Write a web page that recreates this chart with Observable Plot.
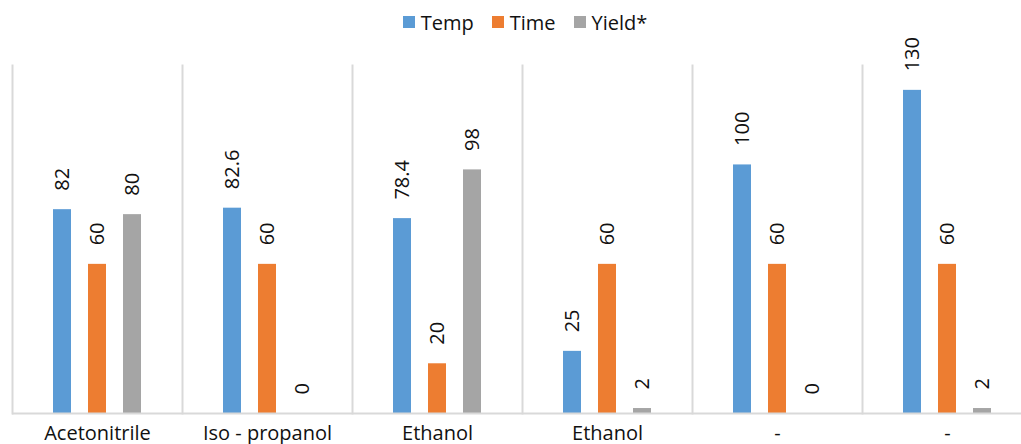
<!DOCTYPE html>
<html><head><meta charset="utf-8">
<script src="https://cdn.jsdelivr.net/npm/d3@7"></script>
<script src="https://cdn.jsdelivr.net/npm/@observablehq/plot@0.6"></script>
<style>
html,body{margin:0;padding:0;background:#fff;overflow:hidden;}
body{width:1021px;height:444px;font-family:"Open Sans",sans-serif;}
#legend{height:44px;display:flex;justify-content:center;align-items:center;padding-left:29px;box-sizing:border-box;font-size:20px;color:#111;}
#legend .it{display:flex;align-items:center;margin:0 9px;}
#legend .sw{width:12px;height:12px;margin-right:6px;}
svg{display:block;overflow:visible;}
</style></head>
<body>
<div id="legend"></div>
<div id="chart"></div>
<script>
const categories = ["Acetonitrile", "Iso - propanol", "Ethanol", "Ethanol", "-", "-"];
const series = ["Temp", "Time", "Yield*"];
const colors = ["#5B9BD5", "#ED7D31", "#A5A5A5"];
const temp = [82, 82.6, 78.4, 25, 100, 130];
const time = [60, 60, 20, 60, 60, 60];
const yieldPct = [80, 0, 98, 2, 0, 2];

const values = [temp, time, yieldPct];
const data = [];
categories.forEach((c, i) => {
  series.forEach((s, j) => data.push({cat: i, series: s, value: values[j][i]}));
});

const legend = document.getElementById("legend");
series.forEach((s, j) => {
  const it = document.createElement("div");
  it.className = "it";
  it.innerHTML = `<span class="sw" style="background:${colors[j]}"></span><span>${s}</span>`;
  legend.appendChild(it);
});

const chart = Plot.plot({
  width: 1021,
  height: 400,
  marginLeft: 12,
  marginRight: -11,
  marginTop: 21,
  marginBottom: 31,
  style: {fontFamily: "Open Sans, sans-serif", background: "#fff"},
  fx: {domain: d3.range(categories.length), padding: 0, axis: null},
  x: {domain: series, paddingInner: 0.486, paddingOuter: 1.17, axis: null},
  y: {domain: [0, 140], axis: null},
  color: {domain: series, range: colors},
  marks: [
    Plot.frame({anchor: "left", stroke: "#d9d9d9", strokeWidth: 2}),
    Plot.barY(data, {fx: "cat", x: "series", y: "value", fill: "series"}),
    Plot.ruleY([0], {stroke: "#d9d9d9", strokeWidth: 2}),
    Plot.text(data, {fx: "cat", x: "series", y: "value", text: d => String(d.value),
      rotate: -90, textAnchor: "start", dy: -19, fontSize: 20, fill: "#111"}),
    Plot.axisFx({anchor: "bottom", tickSize: 0, tickPadding: 12, fontSize: 20, label: null,
      tickFormat: i => categories[i], color: "#111"})
  ]
});
document.getElementById("chart").appendChild(chart);
</script>
</body></html>
